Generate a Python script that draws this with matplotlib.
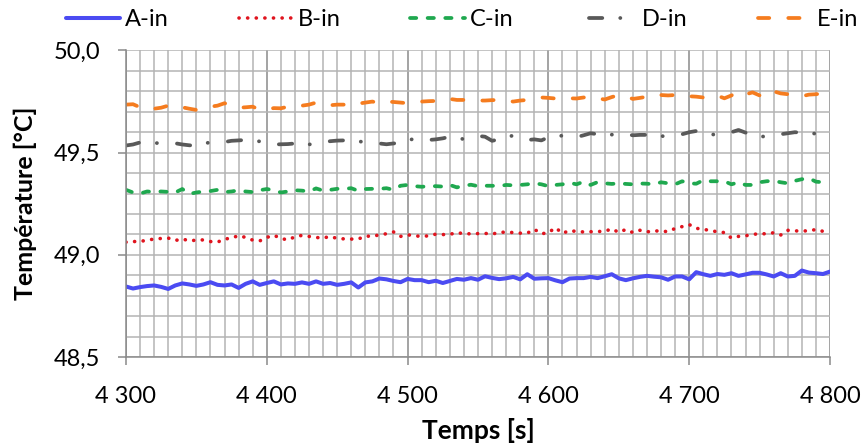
import numpy as np
import matplotlib
matplotlib.use("Agg")
import matplotlib.pyplot as plt
from matplotlib.lines import Line2D
from matplotlib.ticker import MultipleLocator, FuncFormatter

plt.rcParams['font.family'] = ['Lato', 'DejaVu Sans']
plt.rcParams['lines.scale_dashes'] = False

# temps [s], un point toutes les 5 s
temps = np.arange(4300, 4801, 5)

a_in = [48.845, 48.835, 48.842, 48.847, 48.850, 48.843, 48.833, 48.850, 48.860, 48.855,
        48.848, 48.855, 48.866, 48.853, 48.850, 48.855, 48.838, 48.858, 48.870, 48.853,
        48.862, 48.870, 48.855, 48.860, 48.858, 48.865, 48.858, 48.870, 48.858, 48.862,
        48.853, 48.858, 48.865, 48.840, 48.865, 48.870, 48.884, 48.880, 48.872, 48.866,
        48.882, 48.876, 48.876, 48.866, 48.873, 48.862, 48.872, 48.882, 48.878, 48.886,
        48.878, 48.895, 48.887, 48.881, 48.885, 48.892, 48.880, 48.905, 48.883, 48.885,
        48.886, 48.875, 48.866, 48.884, 48.886, 48.886, 48.892, 48.886, 48.895, 48.905,
        48.885, 48.876, 48.885, 48.892, 48.897, 48.893, 48.890, 48.878, 48.894, 48.894,
        48.880, 48.915, 48.905, 48.897, 48.906, 48.902, 48.910, 48.897, 48.904, 48.912,
        48.912, 48.904, 48.894, 48.910, 48.894, 48.897, 48.923, 48.913, 48.910, 48.906,
        48.918]

b_in = [49.062, 49.065, 49.065, 49.072, 49.077, 49.080, 49.082, 49.070, 49.078, 49.068,
        49.072, 49.073, 49.065, 49.062, 49.077, 49.082, 49.094, 49.085, 49.072, 49.068,
        49.085, 49.096, 49.080, 49.073, 49.088, 49.095, 49.090, 49.085, 49.082, 49.090,
        49.080, 49.078, 49.077, 49.077, 49.092, 49.090, 49.098, 49.103, 49.112, 49.090,
        49.098, 49.093, 49.090, 49.093, 49.101, 49.099, 49.100, 49.109, 49.103, 49.103,
        49.104, 49.105, 49.101, 49.110, 49.111, 49.109, 49.106, 49.106, 49.125, 49.103,
        49.108, 49.133, 49.105, 49.119, 49.114, 49.112, 49.113, 49.114, 49.115, 49.127,
        49.110, 49.124, 49.109, 49.120, 49.112, 49.118, 49.115, 49.114, 49.129, 49.138,
        49.148, 49.130, 49.124, 49.120, 49.112, 49.109, 49.082, 49.090, 49.093, 49.100,
        49.103, 49.103, 49.108, 49.097, 49.120, 49.117, 49.117, 49.117, 49.124, 49.115,
        49.113]

c_in = [49.318, 49.305, 49.300, 49.310, 49.308, 49.310, 49.308, 49.305, 49.322, 49.298,
        49.305, 49.310, 49.312, 49.318, 49.307, 49.310, 49.316, 49.310, 49.307, 49.316,
        49.322, 49.316, 49.305, 49.310, 49.316, 49.314, 49.310, 49.325, 49.314, 49.318,
        49.323, 49.323, 49.326, 49.313, 49.322, 49.323, 49.323, 49.326, 49.318, 49.338,
        49.342, 49.336, 49.333, 49.336, 49.336, 49.334, 49.342, 49.330, 49.338, 49.343,
        49.336, 49.338, 49.338, 49.336, 49.342, 49.340, 49.342, 49.345, 49.350, 49.345,
        49.336, 49.342, 49.345, 49.353, 49.345, 49.358, 49.342, 49.356, 49.350, 49.347,
        49.350, 49.347, 49.345, 49.349, 49.348, 49.345, 49.355, 49.350, 49.345, 49.360,
        49.350, 49.348, 49.365, 49.360, 49.360, 49.360, 49.345, 49.355, 49.342, 49.342,
        49.355, 49.360, 49.362, 49.355, 49.350, 49.362, 49.370, 49.375, 49.358, 49.355,
        49.360]

d_in = [49.535, 49.540, 49.550, 49.551, 49.548, 49.545, 49.542, 49.546, 49.540, 49.536,
        49.534, 49.545, 49.550, 49.553, 49.552, 49.558, 49.560, 49.562, 49.560, 49.555,
        49.545, 49.540, 49.541, 49.542, 49.545, 49.550, 49.540, 49.545, 49.552, 49.556,
        49.559, 49.560, 49.562, 49.555, 49.552, 49.548, 49.545, 49.541, 49.545, 49.548,
        49.558, 49.570, 49.566, 49.562, 49.565, 49.570, 49.578, 49.575, 49.565, 49.570,
        49.582, 49.578, 49.558, 49.565, 49.578, 49.583, 49.575, 49.562, 49.565, 49.560,
        49.575, 49.585, 49.582, 49.578, 49.576, 49.585, 49.595, 49.590, 49.582, 49.588,
        49.595, 49.590, 49.585, 49.587, 49.587, 49.576, 49.580, 49.583, 49.585, 49.590,
        49.600, 49.606, 49.595, 49.590, 49.587, 49.590, 49.600, 49.611, 49.598, 49.585,
        49.580, 49.578, 49.585, 49.590, 49.595, 49.600, 49.598, 49.595, 49.593, 49.595,
        49.596]

e_in = [49.735, 49.737, 49.722, 49.725, 49.715, 49.720, 49.730, 49.733, 49.722, 49.715,
        49.709, 49.720, 49.725, 49.730, 49.742, 49.730, 49.720, 49.722, 49.725, 49.710,
        49.712, 49.718, 49.717, 49.725, 49.733, 49.730, 49.735, 49.745, 49.742, 49.732,
        49.735, 49.735, 49.746, 49.740, 49.745, 49.750, 49.742, 49.750, 49.748, 49.745,
        49.742, 49.748, 49.750, 49.752, 49.753, 49.760, 49.763, 49.758, 49.758, 49.758,
        49.755, 49.755, 49.757, 49.758, 49.754, 49.750, 49.755, 49.758, 49.765, 49.770,
        49.768, 49.765, 49.763, 49.766, 49.765, 49.770, 49.774, 49.766, 49.760, 49.772,
        49.782, 49.775, 49.763, 49.768, 49.774, 49.772, 49.782, 49.780, 49.782, 49.780,
        49.776, 49.774, 49.770, 49.775, 49.779, 49.766, 49.780, 49.800, 49.785, 49.795,
        49.780, 49.772, 49.800, 49.790, 49.786, 49.780, 49.776, 49.784, 49.786, 49.790,
        49.788]

noms = ['A-in', 'B-in', 'C-in', 'D-in', 'E-in']
couleurs = ['#4b4bf2', '#e0141e', '#1fa84f', '#595959', '#f57c1f']

tiret_point = (9.6, 12.9, 0.1, 14.5)

fig = plt.figure(figsize=(8.61, 4.46), dpi=100)
ax = fig.add_axes([0.1463, 0.1996, 0.8177, 0.6872])

ax.plot(temps, a_in, color=couleurs[0], lw=2.9, solid_capstyle='round', label=noms[0])
ax.plot(temps, b_in, color=couleurs[1], lw=2.6, linestyle=(0, (0.1, 6.1)),
        dash_capstyle='round', label=noms[1])
ax.plot(temps, c_in, color=couleurs[2], lw=2.7, linestyle=(0, (4.5, 8.2)),
        dash_capstyle='round', label=noms[2])
ax.plot(temps, d_in, color=couleurs[3], lw=2.7, linestyle=(0, tiret_point),
        dash_capstyle='round', label=noms[3])
ax.plot(temps, e_in, color=couleurs[4], lw=2.7, linestyle=(0, (8.1, 13.7)),
        dash_capstyle='round', label=noms[4])

ax.set_xlim(4300, 4800)
ax.set_ylim(48.5, 50.0)
ax.xaxis.set_major_locator(MultipleLocator(100))
ax.xaxis.set_minor_locator(MultipleLocator(10))
ax.yaxis.set_major_locator(MultipleLocator(0.5))
ax.yaxis.set_minor_locator(MultipleLocator(0.1))
ax.xaxis.set_major_formatter(FuncFormatter(lambda v, p: '{:,}'.format(int(round(v))).replace(',', ' ')))
ax.yaxis.set_major_formatter(FuncFormatter(lambda v, p: '{:.1f}'.format(v).replace('.', ',')))

ax.grid(True, which='minor', color='#b4b4b4', lw=1.1)
ax.grid(True, which='major', axis='y', color='#b4b4b4', lw=1.1)
ax.grid(True, which='major', axis='x', color='#8a8a8a', lw=1.1)
ax.set_axisbelow(True)

for s in ['top', 'right']:
    ax.spines[s].set_visible(False)
for s in ['left', 'bottom']:
    ax.spines[s].set_color('#8a8a8a')
    ax.spines[s].set_linewidth(1.1)

ax.tick_params(which='major', direction='out', length=5.8, width=1.1, color='#8a8a8a',
               labelsize=17, labelcolor='#000000')
ax.tick_params(axis='y', which='major', pad=13)
ax.tick_params(axis='x', which='major', pad=15)
ax.tick_params(which='minor', length=0)

ax.set_xlabel('Temps [s]', fontsize=19, fontweight='bold', labelpad=8)
ax.set_ylabel('Température [°C]', fontsize=18, fontweight='bold', labelpad=12)

# légende : D-in affiché "tiret + point" comme dans Excel
handles, labels = ax.get_legend_handles_labels()
handles[3] = Line2D([], [], color=couleurs[3], lw=2.7, dash_capstyle='round',
                    linestyle=(sum(tiret_point) - 4.3, tiret_point))
ax.legend(handles, labels, loc='center left', bbox_to_anchor=(-0.0852, 1.0995), ncol=5,
          frameon=False, fontsize=17, handlelength=2.3, handletextpad=0.21,
          columnspacing=2.95, borderpad=0, borderaxespad=0)

fig.savefig('out.png', dpi=100)
